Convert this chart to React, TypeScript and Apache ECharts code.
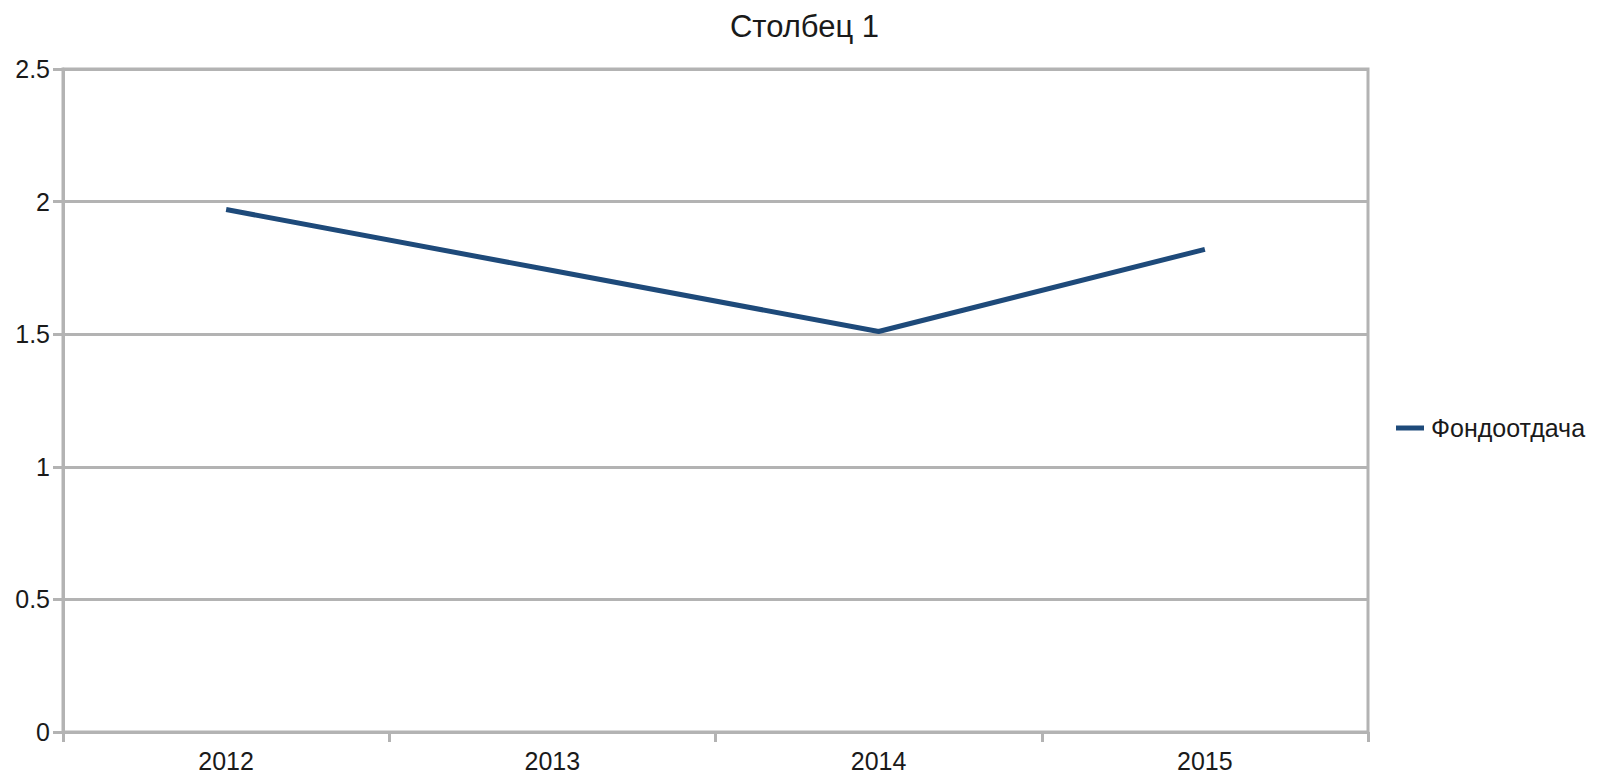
import React, { useEffect, useRef } from "react";
import * as echarts from "echarts";

const title = "Столбец 1";
const categories = ["2012", "2013", "2014", "2015"];
const seriesName = "Фондоотдача";
const values = [1.97, 1.74, 1.51, 1.82];
const yTicks = { min: 0, max: 2.5, interval: 0.5 };

export default function App() {
  const ref = useRef<HTMLDivElement>(null);
  useEffect(() => {
    document.body.style.margin = "0";
    const chart = echarts.init(ref.current!, null, { renderer: "svg" });
    const font = "'Liberation Sans', Arial, sans-serif";
    const gray = "#b3b3b3";
    chart.setOption({
      animation: false,
      backgroundColor: "#ffffff",
      title: {
        text: title,
        left: "center",
        top: 6,
        textStyle: { fontFamily: font, fontSize: 31, fontWeight: "normal", color: "#1a1a1a" },
      },
      legend: {
        orient: "vertical",
        left: 1391,
        top: 410,
        icon: "rect",
        itemWidth: 28,
        itemHeight: 5,
        itemGap: 8,
        data: [seriesName],
        textStyle: { fontFamily: font, fontSize: 25, color: "#1a1a1a", lineHeight: 26, padding: [0, 0, 0, 2] },
      },
      grid: {
        left: 63,
        right: 241,
        top: 69,
        bottom: 46,
        show: true,
        borderColor: gray,
        borderWidth: 3,
        containLabel: false,
      },
      xAxis: {
        type: "category",
        data: categories,
        boundaryGap: true,
        axisLine: { show: true, lineStyle: { color: gray, width: 3 } },
        axisTick: { show: true, length: 10, alignWithLabel: false, lineStyle: { color: gray, width: 3 } },
        axisLabel: { fontFamily: font, fontSize: 25, color: "#1a1a1a", margin: 16 },
        splitLine: { show: false },
      },
      yAxis: {
        type: "value",
        min: yTicks.min,
        max: yTicks.max,
        interval: yTicks.interval,
        axisLine: { show: true, lineStyle: { color: gray, width: 3 } },
        axisTick: { show: true, length: 10, lineStyle: { color: gray, width: 3 } },
        axisLabel: { fontFamily: font, fontSize: 25, color: "#1a1a1a", margin: 13 },
        splitLine: { show: true, lineStyle: { color: gray, width: 3 } },
      },
      series: [
        {
          name: seriesName,
          type: "line",
          data: values,
          showSymbol: false,
          symbol: "none",
          color: "#1e4a7a",
          lineStyle: { color: "#1e4a7a", width: 5 },
        },
      ],
    });
    return () => chart.dispose();
  }, []);
  return <div ref={ref} style={{ width: 1609, height: 778 }} />;
}
